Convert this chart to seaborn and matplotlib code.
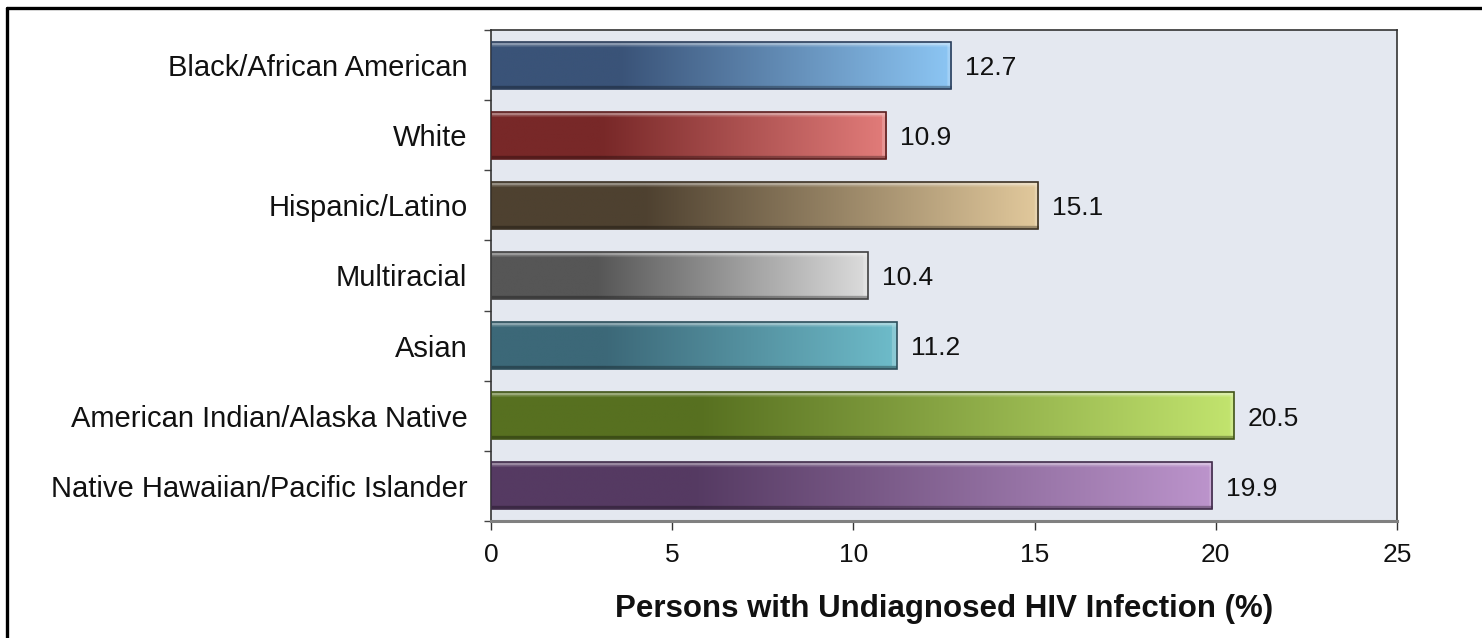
import numpy as np
import pandas as pd
import matplotlib
matplotlib.use("Agg")
import matplotlib.pyplot as plt
from matplotlib.lines import Line2D
import seaborn as sns

# Data
groups = ["Black/African American", "White", "Hispanic/Latino", "Multiracial",
          "Asian", "American Indian/Alaska Native", "Native Hawaiian/Pacific Islander"]
undiagnosed_pct = [12.7, 10.9, 15.1, 10.4, 11.2, 20.5, 19.9]
x_ticks = [0, 5, 10, 15, 20, 25]

# Gradient endpoints (dark left, light right) per group
dark_colors = ["#3a5378", "#782828", "#4e4130", "#565656", "#3c6878", "#577020", "#553a62"]
light_colors = ["#8cc6f4", "#e27c7a", "#e2c99c", "#dcdcdc", "#6ebcca", "#c2e46e", "#bc94cc"]

sns.set_style("white")
plt.rcParams["font.family"] = ["Liberation Sans", "DejaVu Sans"]

fig = plt.figure(figsize=(14.82, 6.38), dpi=100)
ax = fig.add_axes([491 / 1482, 1 - 521 / 638, (1397 - 491) / 1482, (521 - 30) / 638])
ax.set_facecolor("#e4e8f0")

df = pd.DataFrame({"group": groups, "pct": undiagnosed_pct})
sns.barplot(data=df, x="pct", y="group", hue="group", palette=dark_colors,
            legend=False, orient="h", width=0.67, ax=ax, saturation=1)

ax.set_xlim(0, 25)
ax.set_ylim(len(groups) - 0.5, -0.5)
xlim, ylim = ax.get_xlim(), ax.get_ylim()


def hex_rgb(h):
    return np.array(matplotlib.colors.to_rgb(h))


for patch, dk, lt in zip(ax.patches, dark_colors, light_colors):
    x0, y0 = patch.get_x(), patch.get_y()
    w, h = patch.get_width(), patch.get_height()
    d, l = hex_rgb(dk), hex_rgb(lt)
    ncol, nrow = 400, 60
    t = np.linspace(0, 1, ncol)
    frac = np.clip((t - 0.28) / 0.72, 0, 1)
    row = d[None, :] + (l - d)[None, :] * frac[:, None]
    img = np.repeat(row[None, :, :], nrow, axis=0)
    # bevel: light top rim, dark bottom rim, lighter end cap
    top = int(nrow * 0.07)
    img[:top] = img[:top] * 0.6 + 0.4
    img[top:top + 2] = img[top:top + 2] * 0.85 + 0.15
    img[-top:] = img[-top:] * 0.7
    cap = max(2, int(ncol * 0.14 / w))
    img[top:-top, -cap:] = img[top:-top, -cap:] * 0.8 + 0.2
    im = ax.imshow(img, extent=(x0, x0 + w, y0 + h, y0), origin="upper",
                   aspect="auto", interpolation="bilinear", zorder=2)
    im.set_clip_path(patch)
    patch.set_facecolor("none")
    patch.set_edgecolor(d * 0.75)
    patch.set_linewidth(1.2)
    patch.set_zorder(3)

ax.set_xlim(xlim)
ax.set_ylim(ylim)

for i, v in enumerate(undiagnosed_pct):
    ax.text(v + 0.38, i + 0.04, f"{v}", va="center", ha="left", fontsize=19, color="#111111")

ax.set_xticks(x_ticks)
ax.set_xticklabels([str(x) for x in x_ticks])
ax.set_yticks(range(len(groups)))
ax.set_yticklabels(groups)
ax.set_yticks(np.arange(-0.5, len(groups), 1), minor=True)
ax.tick_params(axis="y", which="major", length=0, pad=17, labelsize=21, labelcolor="#111111")
ax.tick_params(axis="y", which="minor", length=5, width=1, color="#444444", direction="out", left=True)
ax.tick_params(axis="x", which="major", length=6.5, width=1, color="#333333", direction="out",
               pad=9, labelsize=19, labelcolor="#111111", bottom=True)

ax.set_ylabel("")
ax.set_xlabel("Persons with Undiagnosed HIV Infection (%)", fontsize=22.5,
              fontweight="bold", labelpad=20, color="#111111")

for side in ["top", "right", "left"]:
    ax.spines[side].set_visible(True)
    ax.spines[side].set_color("#333333")
    ax.spines[side].set_linewidth(1.2)
ax.spines["bottom"].set_color("#808080")
ax.spines["bottom"].set_linewidth(2.2)
ax.spines["bottom"].set_visible(True)

# Figure frame (top and left edges visible)
fig.add_artist(Line2D([7 / 1482, 1.0], [1 - 8 / 638, 1 - 8 / 638], color="black",
                      linewidth=2.4, transform=fig.transFigure))
fig.add_artist(Line2D([7 / 1482, 7 / 1482], [0, 1 - 8 / 638], color="black",
                      linewidth=2.4, transform=fig.transFigure))

fig.savefig("out.png", dpi=100, facecolor="white")
